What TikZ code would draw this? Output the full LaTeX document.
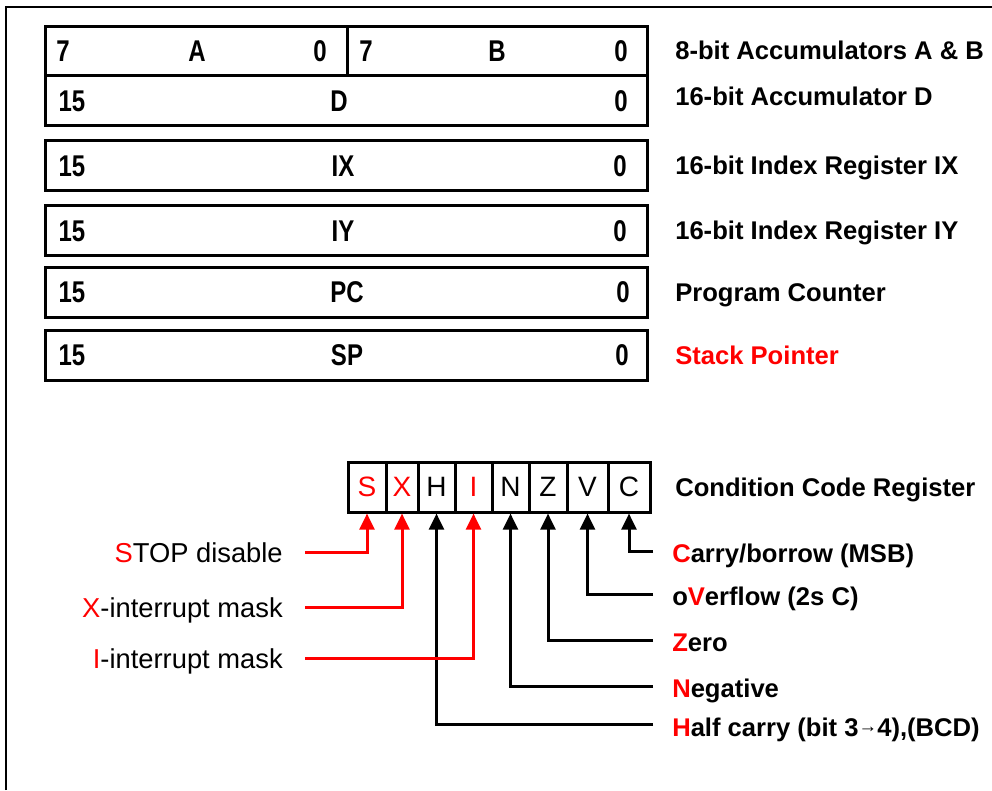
\documentclass[tikz,border=0pt]{standalone}
\usepackage{fontspec}
\setmainfont{Liberation Sans}
\newfontfamily\regfont{Liberation Sans}[FakeStretch=0.8]
\usetikzlibrary{arrows.meta}
\definecolor{flagred}{RGB}{255,0,0}
\begin{document}
\begin{tikzpicture}[x=0.75pt,y=-0.75pt,
  regbox/.style={draw,line width=2.25pt},
  regtxt/.style={font=\regfont\bfseries\fontsize{22.5}{26}\selectfont,anchor=base,inner sep=0},
  rlbl/.style={font=\bfseries\fontsize{19.2}{23}\selectfont,anchor=base west,inner sep=0},
  llbl/.style={font=\fontsize{20.5}{24}\selectfont,anchor=base east,inner sep=0},
  cell/.style={draw,line width=2.25pt,minimum height=37.5pt,inner sep=0,font=\fontsize{21}{24}\selectfont},
  conn/.style={line width=2.25pt,-{Triangle[width=11pt,length=12pt]}},
  redconn/.style={conn,draw=flagred,-{Triangle[width=11pt,length=12pt,fill=flagred]}}
]
\useasboundingbox (0,0) rectangle (992,790);
% frame
\draw[line width=1.5pt] (6,790) -- (6,7) -- (992,7);
% registers
\draw[regbox] (45,26) rectangle (647,125);
\draw[regbox] (45,75) -- (647,75);
\draw[regbox] (347,26) -- (347,75);
\draw[regbox] (45,140) rectangle (647,190);
\draw[regbox] (45,205) rectangle (647,255);
\draw[regbox] (45,267) rectangle (647,317);
\draw[regbox] (45,330) rectangle (647,380);
% register texts
\node[regtxt] (a7) at (63,61) {7};
\node[regtxt] (aA) at (197,61) {A};
\node[regtxt] (a0) at (320,61) {0};
\node[regtxt] (b7) at (366,61) {7};
\node[regtxt] (bB) at (497,61) {B};
\node[regtxt] (b0) at (621,61) {0};
\node[regtxt] (d15) at (72,111) {15};
\node[regtxt] (dD) at (339,111) {D};
\node[regtxt] (d0) at (621,111) {0};
\node[regtxt] (x15) at (72,176) {15};
\node[regtxt] (xX) at (343,176) {IX};
\node[regtxt] (x0) at (620,176) {0};
\node[regtxt] (y15) at (72,241) {15};
\node[regtxt] (yY) at (343,241) {IY};
\node[regtxt] (y0) at (620,241) {0};
\node[regtxt] (p15) at (72,302) {15};
\node[regtxt] (pP) at (347,302) {PC};
\node[regtxt] (p0) at (623,302) {0};
\node[regtxt] (s15) at (72,365) {15};
\node[regtxt] (sS) at (347,365) {SP};
\node[regtxt] (s0) at (622,365) {0};
% right labels
\node[rlbl] (lAB) at (675,59) {8-bit Accumulators A \& B};
\node[rlbl] (lD) at (675,105) {16-bit Accumulator D};
\node[rlbl] (lIX) at (675,174) {16-bit Index Register IX};
\node[rlbl] (lIY) at (675,239) {16-bit Index Register IY};
\node[rlbl] (lPC) at (675,301) {Program Counter};
\node[rlbl,text=flagred] (lSP) at (675,364) {Stack Pointer};
\node[rlbl] (lCCR) at (675,496) {Condition Code Register};
% CCR cells
\node[cell,minimum width=28.5pt,text=flagred] (cS) at (367,487) {S};
\node[cell,minimum width=24pt,text=flagred] (cX) at (402,487) {X};
\node[cell,minimum width=27.75pt] (cH) at (436.5,487) {H};
\node[cell,minimum width=27.75pt,text=flagred] (cI) at (473.5,487) {I};
\node[cell,minimum width=27.75pt] (cN) at (510.5,487) {N};
\node[cell,minimum width=28.5pt] (cZ) at (548,487) {Z};
\node[cell,minimum width=30.75pt] (cV) at (587.5,487) {V};
\node[cell,minimum width=31.5pt] (cC) at (629,487) {C};
% left labels
\node[llbl] (tS) at (283,562) {\textcolor{flagred}{S}TOP disable};
\node[llbl] (tX) at (283,617) {\textcolor{flagred}{X}-interrupt mask};
\node[llbl] (tI) at (283,668) {\textcolor{flagred}{I}-interrupt mask};
% right flag labels
\node[rlbl] (tC) at (672,562) {\textcolor{flagred}{C}arry/borrow (MSB)};
\node[rlbl] (tV) at (672,605) {o\textcolor{flagred}{V}erflow (2s C)};
\node[rlbl] (tZ) at (672,651) {\textcolor{flagred}{Z}ero};
\node[rlbl] (tN) at (672,697) {\textcolor{flagred}{N}egative};
\node[rlbl] (tH) at (672,736) {\textcolor{flagred}{H}alf carry (bit 3\raisebox{3pt}{\fontsize{14}{15}\selectfont→}4),(BCD)};
% connector ends
\coordinate (eS) at (305,552);
\coordinate (eX) at (305,607);
\coordinate (eI) at (305,658);
\coordinate (eC) at (653,551);
\coordinate (eV) at (653,594);
\coordinate (eZ) at (653,640);
\coordinate (eN) at (653,686);
\coordinate (eH) at (653,724);
% connectors
\draw[redconn] (eS) -| (cS.south);
\draw[redconn] (eX) -| (cX.south);
\draw[conn] (eH) -| (cH.south);
\draw[redconn] (eI) -| (cI.south);
\draw[conn] (eN) -| (cN.south);
\draw[conn] (eZ) -| (cZ.south);
\draw[conn] (eV) -| (cV.south);
\draw[conn] (eC) -| (cC.south);
\end{tikzpicture}
\end{document}
